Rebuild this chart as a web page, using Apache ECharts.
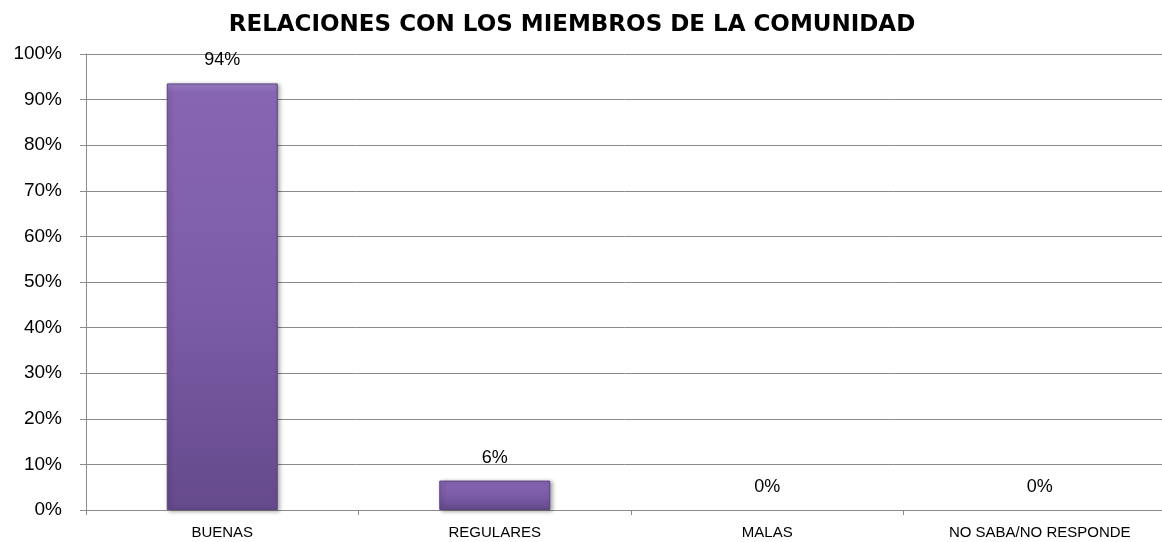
<!DOCTYPE html>
<html>
<head>
<meta charset="utf-8">
<script src="https://cdn.jsdelivr.net/npm/echarts@6/dist/echarts.min.js"></script>
<style>
html,body{margin:0;padding:0;background:#fff;}
#chart{width:1162px;height:542px;}
</style>
</head>
<body>
<div id="chart"></div>
<script>
const titleText = 'RELACIONES CON LOS MIEMBROS DE LA COMUNIDAD';
const categories = ['BUENAS', 'REGULARES', 'MALAS', 'NO SABA/NO RESPONDE'];
const values = [93.55, 6.45, 0, 0];
const yTicks = [0, 10, 20, 30, 40, 50, 60, 70, 80, 90, 100];

const chart = echarts.init(document.getElementById('chart'), null, {renderer: 'canvas'});
const gray = '#8a8a8a';
chart.setOption({
  animation: false,
  backgroundColor: '#ffffff',
  title: {
    text: titleText,
    left: 567,
    top: 9,
    textAlign: 'center',
    textStyle: {fontFamily: 'DejaVu Sans', fontWeight: 'bold', fontSize: 23, color: '#000'}
  },
  grid: {left: 86, top: 54, width: 1090, height: 456, containLabel: false, outerBoundsMode: 'none'},
  xAxis: {
    type: 'category',
    data: categories,
    axisLine: {lineStyle: {color: gray, width: 1}},
    axisTick: {show: true, length: 5, lineStyle: {color: gray}},
    axisLabel: {color: '#000', fontFamily: 'Liberation Sans', fontSize: 15, margin: 15}
  },
  yAxis: {
    type: 'value',
    min: yTicks[0],
    max: yTicks[yTicks.length - 1],
    interval: 10,
    axisLine: {show: true, lineStyle: {color: gray, width: 1}},
    axisTick: {show: true, length: 6, lineStyle: {color: gray}},
    splitLine: {lineStyle: {color: gray, width: 1}},
    axisLabel: {formatter: '{value}%', color: '#000', fontFamily: 'Liberation Sans', fontSize: 19, margin: 24}
  },
  series: [{
    type: 'bar',
    data: values.map(v => ({
      value: v,
      itemStyle: v === 0 ? {color: 'rgba(0,0,0,0)', borderWidth: 0, shadowBlur: 0, shadowOffsetX: 0, shadowOffsetY: 0, shadowColor: 'rgba(0,0,0,0)'} : undefined
    })),
    barWidth: 111,
    itemStyle: {
      color: new echarts.graphic.LinearGradient(0, 0, 0, 1, [
        {offset: 0, color: '#9c82c6'},
        {offset: 0.02, color: '#8865b3'},
        {offset: 0.5, color: '#7c5ca8'},
        {offset: 1, color: '#654a8c'}
      ]),
      borderColor: '#5e4482',
      borderWidth: 1,
      shadowColor: 'rgba(0,0,0,0.35)',
      shadowBlur: 4,
      shadowOffsetX: 2,
      shadowOffsetY: 1
    },
    label: {
      show: true,
      position: 'top',
      distance: 14,
      color: '#000',
      fontFamily: 'Liberation Sans',
      fontSize: 18,
      formatter: p => p.value.toFixed(0) + '%'
    }
  }]
});
</script>
</body>
</html>
